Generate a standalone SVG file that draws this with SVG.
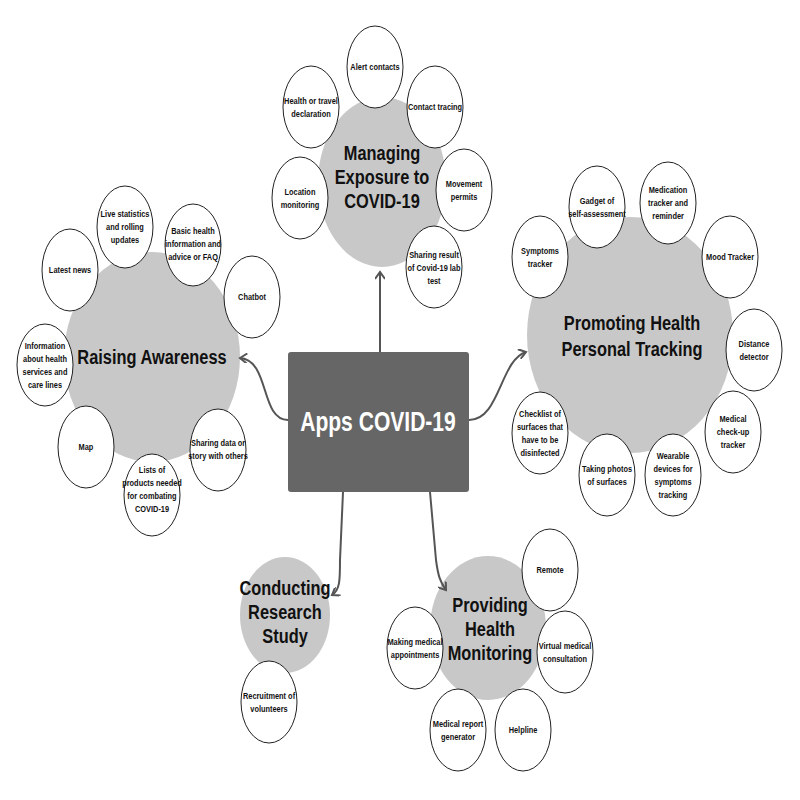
<svg xmlns="http://www.w3.org/2000/svg" width="800" height="800" viewBox="0 0 800 800">
<style>
text{font-family:"Liberation Sans",Arial,sans-serif;font-weight:bold;text-anchor:middle;fill:#111;transform-box:fill-box;transform-origin:center;transform:scaleX(0.78)}
.big{fill:#c8c8c8}
.b{fill:#fff;stroke:#222;stroke-width:1}
.s{font-size:9.5px}
.t{font-size:21px}
.c{fill:none;stroke:#555;stroke-width:2}
</style>
<defs><marker id="a" markerWidth="10" markerHeight="10" refX="8" refY="5" orient="auto" markerUnits="userSpaceOnUse"><path d="M1,0 L8,5 L1,10" fill="none" stroke="#555" stroke-width="2"/></marker></defs>
<rect width="800" height="800" fill="#fff"/>
<g id="raising">
<ellipse class="big" cx="152" cy="357" rx="88" ry="105"/>
<text class="t" x="152" y="364">Raising Awareness</text>
<g><ellipse class="b" cx="70" cy="270" rx="28" ry="41"/><text class="s" x="70" y="273">Latest news</text></g>
<g><ellipse class="b" cx="125" cy="227" rx="28" ry="41"/><text class="s" x="125" y="217">Live statistics</text><text class="s" x="125" y="230">and rolling</text><text class="s" x="125" y="243">updates</text></g>
<g><ellipse class="b" cx="193" cy="245" rx="28" ry="41"/><text class="s" x="193" y="234">Basic health</text><text class="s" x="193" y="247">information and</text><text class="s" x="193" y="260">advice or FAQ</text></g>
<g><ellipse class="b" cx="252" cy="297" rx="28" ry="41"/><text class="s" x="252" y="300">Chatbot</text></g>
<g><ellipse class="b" cx="45" cy="365" rx="28" ry="41"/><text class="s" x="45" y="349">Information</text><text class="s" x="45" y="362">about health</text><text class="s" x="45" y="375">services and</text><text class="s" x="45" y="388">care lines</text></g>
<g><ellipse class="b" cx="86" cy="447" rx="28" ry="41"/><text class="s" x="86" y="450">Map</text></g>
<g><ellipse class="b" cx="152" cy="495" rx="28" ry="41"/><text class="s" x="152" y="473">Lists of</text><text class="s" x="152" y="486">products needed</text><text class="s" x="152" y="499">for combating</text><text class="s" x="152" y="512">COVID-19</text></g>
<g><ellipse class="b" cx="218" cy="450" rx="28" ry="41"/><text class="s" x="218" y="446">Sharing data or</text><text class="s" x="218" y="459">story with others</text></g>
</g>
<g id="managing">
<ellipse class="big" cx="382" cy="182" rx="64" ry="85"/>
<text class="t" x="382" y="160">Managing</text><text class="t" x="382" y="184">Exposure to</text><text class="t" x="382" y="208">COVID-19</text>
<g><ellipse class="b" cx="375" cy="67" rx="28" ry="41"/><text class="s" x="375" y="70">Alert contacts</text></g>
<g><ellipse class="b" cx="311" cy="107" rx="28" ry="41"/><text class="s" x="311" y="104">Health or travel</text><text class="s" x="311" y="117">declaration</text></g>
<g><ellipse class="b" cx="435" cy="107" rx="28" ry="41"/><text class="s" x="435" y="110">Contact tracing</text></g>
<g><ellipse class="b" cx="300" cy="198" rx="28" ry="41"/><text class="s" x="300" y="195">Location</text><text class="s" x="300" y="208">monitoring</text></g>
<g><ellipse class="b" cx="464" cy="190" rx="28" ry="41"/><text class="s" x="464" y="187">Movement</text><text class="s" x="464" y="200">permits</text></g>
<g><ellipse class="b" cx="434" cy="267" rx="28" ry="41"/><text class="s" x="434" y="258">Sharing result</text><text class="s" x="434" y="271">of Covid-19 lab</text><text class="s" x="434" y="284">test</text></g>
</g>
<g id="promoting">
<ellipse class="big" cx="630" cy="335" rx="103" ry="118"/>
<text class="t" x="632" y="330">Promoting Health</text><text class="t" x="632" y="356">Personal Tracking</text>
<g><ellipse class="b" cx="597" cy="207" rx="28" ry="41"/><text class="s" x="597" y="204">Gadget of</text><text class="s" x="597" y="217">self-assessment</text></g>
<g><ellipse class="b" cx="668" cy="203" rx="28" ry="41"/><text class="s" x="668" y="193">Medication</text><text class="s" x="668" y="206">tracker and</text><text class="s" x="668" y="219">reminder</text></g>
<g><ellipse class="b" cx="540" cy="257" rx="28" ry="41"/><text class="s" x="540" y="254">Symptoms</text><text class="s" x="540" y="267">tracker</text></g>
<g><ellipse class="b" cx="730" cy="257" rx="28" ry="41"/><text class="s" x="730" y="260">Mood Tracker</text></g>
<g><ellipse class="b" cx="754" cy="350" rx="28" ry="41"/><text class="s" x="754" y="347">Distance</text><text class="s" x="754" y="360">detector</text></g>
<g><ellipse class="b" cx="733" cy="432" rx="28" ry="41"/><text class="s" x="733" y="422">Medical</text><text class="s" x="733" y="435">check-up</text><text class="s" x="733" y="448">tracker</text></g>
<g><ellipse class="b" cx="673" cy="475" rx="28" ry="41"/><text class="s" x="673" y="459">Wearable</text><text class="s" x="673" y="472">devices for</text><text class="s" x="673" y="485">symptoms</text><text class="s" x="673" y="498">tracking</text></g>
<g><ellipse class="b" cx="607" cy="475" rx="28" ry="41"/><text class="s" x="607" y="472">Taking photos</text><text class="s" x="607" y="485">of surfaces</text></g>
<g><ellipse class="b" cx="540" cy="433" rx="28" ry="41"/><text class="s" x="540" y="417">Checklist of</text><text class="s" x="540" y="430">surfaces that</text><text class="s" x="540" y="443">have to be</text><text class="s" x="540" y="456">disinfected</text></g>
</g>
<g id="conducting">
<ellipse class="big" cx="285" cy="615" rx="45" ry="58"/>
<text class="t" x="285" y="595">Conducting</text><text class="t" x="285" y="619">Research</text><text class="t" x="285" y="643">Study</text>
<g><ellipse class="b" cx="269" cy="702" rx="28" ry="41"/><text class="s" x="269" y="699">Recruitment of</text><text class="s" x="269" y="712">volunteers</text></g>
</g>
<g id="providing">
<ellipse class="big" cx="488" cy="628" rx="58" ry="72"/>
<text class="t" x="490" y="612">Providing</text><text class="t" x="490" y="636">Health</text><text class="t" x="490" y="660">Monitoring</text>
<g><ellipse class="b" cx="550" cy="570" rx="28" ry="41"/><text class="s" x="550" y="573">Remote</text><text class="s" x="550" y="586" visibility="hidden"></text><text class="s" x="550" y="577" style="display:none"></text></g>
<g><ellipse class="b" cx="415" cy="648" rx="28" ry="41"/><text class="s" x="415" y="645">Making medical</text><text class="s" x="415" y="658">appointments</text></g>
<g><ellipse class="b" cx="565" cy="652" rx="28" ry="41"/><text class="s" x="565" y="649">Virtual medical</text><text class="s" x="565" y="662">consultation</text></g>
<g><ellipse class="b" cx="458" cy="730" rx="28" ry="41"/><text class="s" x="458" y="727">Medical report</text><text class="s" x="458" y="740">generator</text></g>
<g><ellipse class="b" cx="523" cy="730" rx="28" ry="41"/><text class="s" x="523" y="733">Helpline</text></g>
</g>
<g id="connectors">
<path class="c" d="M380,352 L380,272" marker-end="url(#a)"/>
<path class="c" d="M288,420 C260,420 270,360 240,358" marker-end="url(#a)"/>
<path class="c" d="M469,420 C500,420 500,360 526,352" marker-end="url(#a)"/>
<path class="c" d="M343,492 L340,560 C340,580 340,590 332,595" marker-end="url(#a)"/>
<path class="c" d="M430,492 L436,560 C438,575 440,582 446,590" marker-end="url(#a)"/>
</g>
<g id="center">
<rect x="288" y="352" width="181" height="140" rx="3" fill="#666"/>
<text x="378" y="431" style="font-size:27px;fill:#fff">Apps COVID-19</text>
</g>
</svg>
